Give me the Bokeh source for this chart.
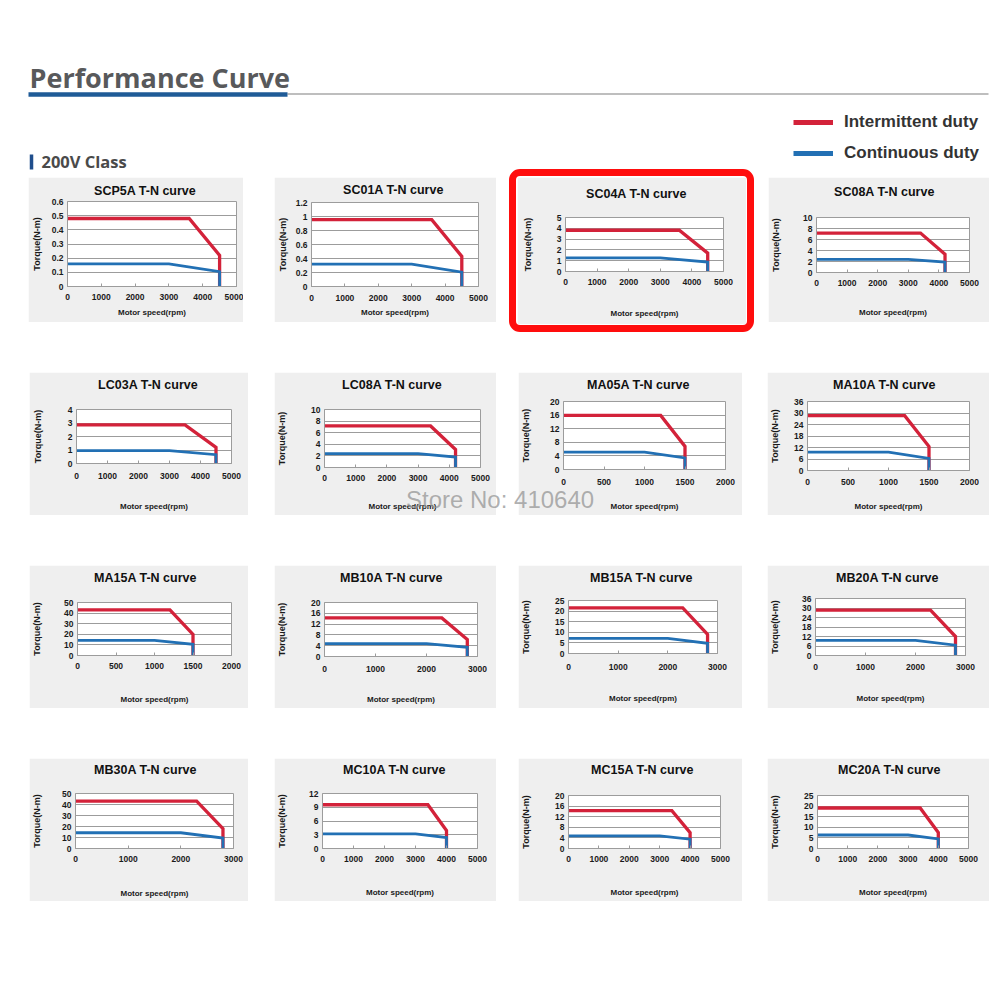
from bokeh.plotting import figure
from bokeh.layouts import column, row
from bokeh.models import Range1d, FixedTicker, Spacer, Legend, LegendItem, Div, Title
from bokeh.core.properties import value
from bokeh.embed import file_html
from bokeh.resources import INLINE

# ---------------- data ----------------
models = ["SCP5A", "SC01A", "SC04A", "SC08A",
          "LC03A", "LC08A", "MA05A", "MA10A",
          "MA15A", "MB10A", "MB15A", "MB20A",
          "MB30A", "MC10A", "MC15A", "MC20A"]
speed_axis_max = [5000, 5000, 5000, 5000, 5000, 5000, 2000, 2000,
                  2000, 3000, 3000, 3000, 3000, 5000, 5000, 5000]
speed_tick_step = [1000, 1000, 1000, 1000, 1000, 1000, 500, 500,
                   500, 1000, 1000, 1000, 1000, 1000, 1000, 1000]
torque_axis_max = [0.6, 1.2, 5, 10, 4, 10, 20, 36, 50, 20, 25, 36, 50, 12, 20, 25]
torque_tick_step = [0.1, 0.2, 1, 2, 1, 2, 4, 6, 10, 4, 5, 6, 10, 3, 4, 5]
max_speed = [4500, 4500, 4500, 4200, 4500, 4200, 1500, 1500,
             1500, 2800, 2800, 2800, 2800, 4000, 4000, 4000]
# intermittent duty (red)
peak_torque = [0.48, 0.955, 3.82, 7.16, 2.86, 7.16, 15.9, 28.6,
               43.0, 14.3, 21.5, 28.6, 43.0, 9.55, 14.3, 19.1]
peak_knee_speed = [3600, 3600, 3600, 3400, 3500, 3400, 1200, 1200,
                   1200, 2300, 2300, 2300, 2300, 3400, 3400, 3400]
peak_torque_at_max = [0.22, 0.43, 1.7, 3.3, 1.2, 3.1, 6.8, 12.5,
                      20.0, 6.3, 9.0, 12.0, 18.0, 3.9, 6.0, 7.5]
# continuous duty (blue)
rated_torque = [0.16, 0.32, 1.27, 2.39, 0.95, 2.39, 5.1, 9.55,
                14.3, 4.77, 7.16, 9.55, 14.3, 3.18, 4.77, 6.37]
rated_knee_speed = [3000, 3000, 3000, 3000, 3000, 3000, 1000, 1000,
                    1000, 2000, 2000, 2000, 2000, 3000, 3000, 3000]
rated_torque_at_max = [0.105, 0.205, 0.87, 1.9, 0.65, 1.8, 3.4, 6.3,
                       10.5, 3.4, 4.8, 6.5, 9.5, 2.4, 3.5, 4.5]
legend_labels = ["Intermittent duty", "Continuous duty"]

# ---------------- layout (page pixels) ----------------
HEADER_H = 177
panel_box = [(28, 177, 215, 145), (274, 177, 222, 145), (517, 177, 229, 147), (768, 177, 221, 145),
             (29, 372, 219, 143), (274, 372, 222, 143), (518, 372, 224, 143), (767, 372, 222, 143),
             (29, 565, 219, 143), (274, 565, 222, 143), (518, 565, 224, 143), (767, 565, 222, 143),
             (29, 758, 219, 143), (274, 758, 222, 143), (518, 758, 224, 143), (767, 758, 222, 143)]
frame_box = [(65, 201, 236, 286), (308, 202, 478, 286), (565, 217, 723, 271), (815, 217, 969, 272),
             (73, 409, 231, 463), (322, 409, 480, 467), (562, 401, 725, 469), (805, 401, 969, 470),
             (75, 602, 231, 655), (322, 602, 477, 656), (567, 600, 717, 653), (813, 598, 965, 655),
             (73, 793, 233, 848), (320, 793, 477, 848), (567, 795, 720, 848), (815, 795, 968, 848)]
title_center = [(143, 189), (391, 188), (637, 192), (884, 190),
                (146, 383), (391, 383), (637, 383), (882, 383),
                (143, 576), (389, 576), (640, 576), (885, 576),
                (143, 768), (392, 768), (641, 768), (887, 768)]
ylabel_cx = [37, 282, 530, 777, 37, 282, 527, 775, 37, 282, 527, 775, 37, 282, 527, 775]
xtick_cy = [298, 299, 283, 284, 477, 479, 483, 483, 667, 670, 668, 668, 860, 860, 860, 860]
xlabel_cy = [312, 312, 313, 312, 506, 506, 506, 506, 699, 699, 698, 698, 893, 892, 892, 892]
HIGHLIGHT = 2

RED = "#d3223a"
BLUE = "#2270b4"
GRID = "#9c9c9c"
PANEL_BG = "#efefef"
FONT = "Liberation Sans"
TICK_FS = 8.5
LAB_FS = 8
YLAB_FS = 9
TITLE_FS = 12.5
TITLE_EM = 8.224  # width of "XXXXX T-N curve" in em (Arial bold), approx


def make_ticks(vmax, step):
    n = int(round(vmax / step))
    out = []
    for k in range(n + 1):
        v = round(k * step, 6)
        if abs(v - round(v)) < 1e-9:
            v = int(round(v))
        out.append(v)
    return out


def label_width(s, fs):
    w = 0.0
    for ch in s:
        w += 0.278 * fs if ch == "." else 0.556 * fs
    return w


figs = []
for i, name in enumerate(models):
    px, py, pw, ph = panel_box[i]
    fl, ft, fr, fb = frame_box[i]
    p = figure(width=pw, height=ph,
               x_range=Range1d(0, speed_axis_max[i]),
               y_range=Range1d(0, torque_axis_max[i]),
               output_backend="svg", toolbar_location=None,
               min_border_left=fl - px, min_border_right=px + pw - fr,
               min_border_top=ft - py, min_border_bottom=py + ph - fb,
               background_fill_color="white", border_fill_color=PANEL_BG,
               outline_line_color=GRID)
    p.frame_align = False
    # panel title (an invisible spacer title keeps it at the right height above the frame)
    tcx, tcy = title_center[i]
    d = ft - tcy
    if d - 10 < 3.5:
        main_standoff = max(0, 2 * (d - 10))
    else:
        main_standoff = 0
        p.add_layout(Title(text=" ", text_font_size="1px", standoff=max(0, d - 13)), "above")
    p.add_layout(Title(text=f"{name} T-N curve", align="left", vertical_align="top",
                       offset=(tcx - TITLE_EM * TITLE_FS / 2) - fl, standoff=main_standoff,
                       text_font=FONT, text_font_style="bold",
                       text_font_size=f"{TITLE_FS}px", text_color="#111111"), "above")

    # curves
    rx = [0, peak_knee_speed[i], max_speed[i], max_speed[i]]
    ry = [peak_torque[i], peak_torque[i], peak_torque_at_max[i], 0]
    bx = [0, rated_knee_speed[i], max_speed[i], max_speed[i]]
    by = [rated_torque[i], rated_torque[i], rated_torque_at_max[i], 0]
    p.line(rx, ry, line_color=RED, line_width=3.3, line_join="miter")
    p.line(bx, by, line_color=BLUE, line_width=2.8, line_join="miter")

    xt = make_ticks(speed_axis_max[i], speed_tick_step[i])
    yt = make_ticks(torque_axis_max[i], torque_tick_step[i])

    xa = p.xaxis[0]
    xa.ticker = FixedTicker(ticks=xt)
    xa.major_label_overrides = {t: f"{t:g}" for t in xt}
    xa.major_tick_in = 3
    xa.major_tick_out = 0
    xa.minor_tick_line_color = None
    xa.major_tick_line_color = GRID
    xa.axis_line_color = GRID
    xa.major_label_text_font = FONT
    xa.major_label_text_font_style = "bold"
    xa.major_label_text_font_size = f"{TICK_FS}px"
    xa.major_label_text_color = "#1a1a1a"
    th = TICK_FS * 1.15
    xa.major_label_standoff = int(round(xtick_cy[i] - th / 2 - fb))
    xa.axis_label = "Motor speed(rpm)"
    xa.axis_label_text_font = FONT
    xa.axis_label_text_font_style = "bold"
    xa.axis_label_text_font_size = f"{LAB_FS}px"
    xa.axis_label_text_color = "#1a1a1a"
    lh = LAB_FS * 1.15
    xa.axis_label_standoff = int(round(xlabel_cy[i] - lh / 2 - (xtick_cy[i] + th / 2)))

    ya = p.yaxis[0]
    ya.ticker = FixedTicker(ticks=yt)
    ya.major_label_overrides = {t: f"{t:g}" for t in yt}
    ya.major_tick_in = 0
    ya.major_tick_out = 0
    ya.minor_tick_line_color = None
    ya.axis_line_color = GRID
    ya.major_label_text_font = FONT
    ya.major_label_text_font_style = "bold"
    ya.major_label_text_font_size = f"{TICK_FS}px"
    ya.major_label_text_color = "#1a1a1a"
    ya.major_label_standoff = 4
    wmax = max(label_width(f"{t:g}", TICK_FS) for t in yt)
    ya.axis_label = "Torque(N-m)"
    ya.axis_label_text_font = FONT
    ya.axis_label_text_font_style = "bold"
    ya.axis_label_text_font_size = f"{YLAB_FS}px"
    ya.axis_label_text_color = "#1a1a1a"
    ya.axis_label_standoff = max(0, int(round((fl - 4 - wmax) - (ylabel_cx[i] + YLAB_FS * 1.15 / 2))))

    p.xgrid.visible = False
    p.ygrid.grid_line_color = GRID
    p.ygrid.grid_line_width = 1

    if i == HIGHLIGHT:
        p.styles = {"outline": "7px solid #ff0d0d", "outline-offset": "1px", "border-radius": "3px"}
    figs.append(p)

# ---------------- header ----------------
hdr = figure(width=1000, height=HEADER_H, x_range=Range1d(0, 1000), y_range=Range1d(HEADER_H, 0),
             output_backend="svg", toolbar_location=None, min_border=0,
             x_axis_type=None, y_axis_type=None, outline_line_color=None,
             background_fill_color="white", border_fill_color="white")
hdr.frame_align = False
hdr.xgrid.visible = False
hdr.ygrid.visible = False
hdr.text(x=[29], y=[77], text=["Performance Curve"], text_font=value("Open Sans"),
         text_font_style="bold", text_font_size="27px", text_color="#58595b",
         text_baseline="middle", text_align="left")
hdr.segment(x0=[287], y0=[93.5], x1=[988], y1=[93.5], line_color="#a8a8a8", line_width=1.5)
hdr.segment(x0=[28], y0=[94], x1=[287], y1=[94], line_color="#1f5b97", line_width=4.5)
hdr.segment(x0=[31], y0=[154], x1=[31], y1=[169], line_color="#1f4e8c", line_width=3.5)
hdr.text(x=[41], y=[161], text=["200V Class"], text_font=value("Open Sans"),
         text_font_style="bold", text_font_size="16.5px", text_color="#4a4a4a",
         text_baseline="middle", text_align="left")
# legend renderers: data kept outside the visible range, only their legend glyphs show
r_red = hdr.line(x=[-20, -10], y=[-20, -20], line_color=RED, line_width=5)
r_blue = hdr.line(x=[-20, -10], y=[-20, -20], line_color=BLUE, line_width=5)
leg = Legend(items=[LegendItem(label=legend_labels[0], renderers=[r_red]),
                    LegendItem(label=legend_labels[1], renderers=[r_blue])],
             location=(793, 14), orientation="vertical",
             glyph_width=40, glyph_height=20, label_height=20, label_standoff=11,
             spacing=11, padding=0, margin=0, border_line_color=None,
             background_fill_alpha=0, label_text_font=FONT, label_text_font_style="bold",
             label_text_font_size="17px", label_text_color="#333333")
hdr.add_layout(leg)

# ---------------- assemble ----------------
children = [hdr]
prev_bottom = HEADER_H
for r in range(4):
    idx = list(range(r * 4, r * 4 + 4))
    top = min(panel_box[i][1] for i in idx)
    if top > prev_bottom:
        children.append(Spacer(width=10, height=top - prev_bottom))
    items = []
    cur_x = 0
    for i in idx:
        px = panel_box[i][0]
        items.append(Spacer(width=px - cur_x, height=1))
        items.append(figs[i])
        cur_x = px + panel_box[i][2]
    children.append(row(items))
    prev_bottom = top + max(panel_box[i][3] for i in idx)

watermark = Div(text="Store No: 410640", width=230, height=30,
                styles={"position": "absolute", "left": "401px", "top": "478px",
                        "font-family": "'Liberation Sans', Arial, sans-serif",
                        "font-size": "24px", "color": "rgba(150,150,150,0.75)",
                        "z-index": "10", "pointer-events": "none", "white-space": "nowrap"})
children.append(watermark)

root = column(children)
open("out.html", "w").write(file_html(root, INLINE))
